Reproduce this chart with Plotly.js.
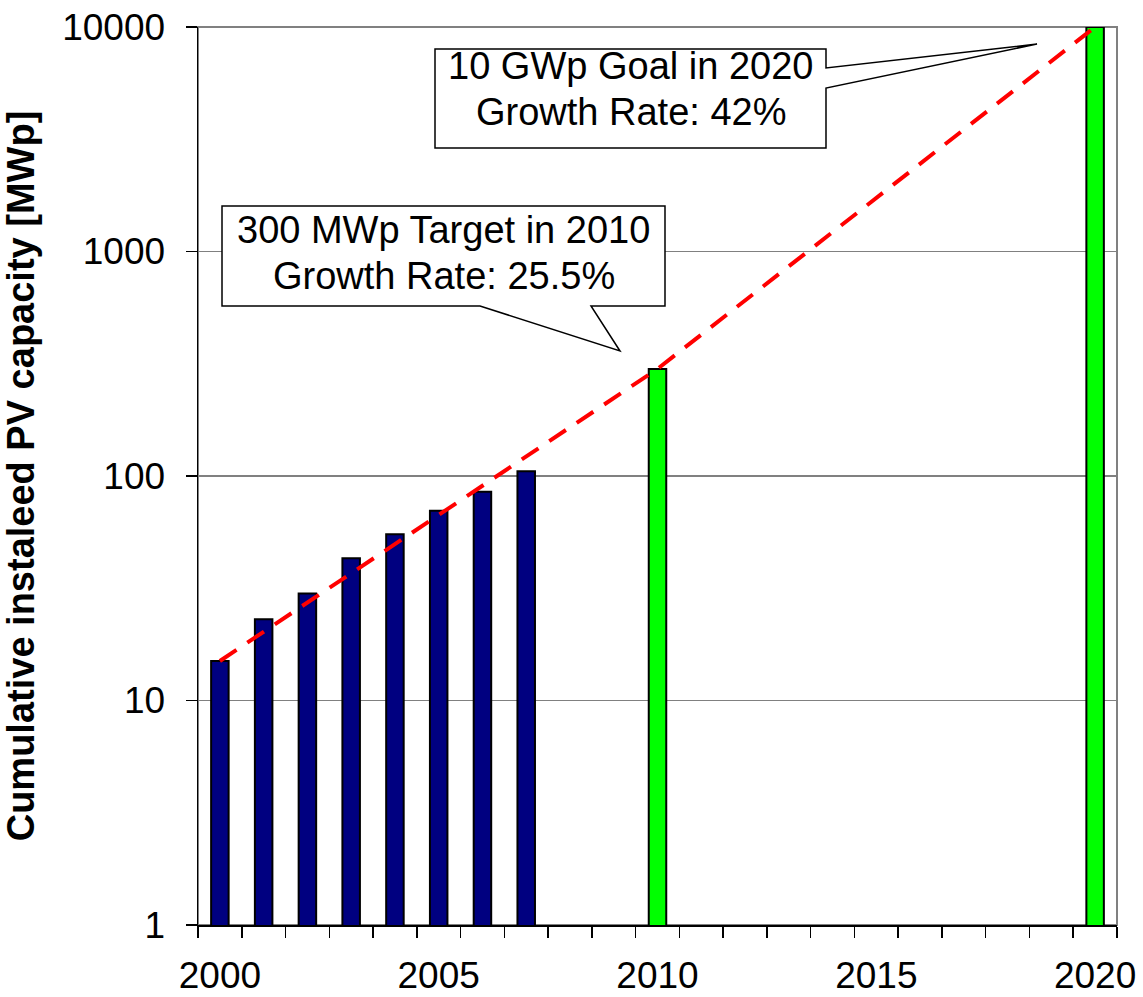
<!DOCTYPE html>
<html>
<head>
<meta charset="utf-8">
<script src="https://cdn.plot.ly/plotly-3.0.1.min.js"></script>
<style>
  html, body { margin: 0; padding: 0; background: #ffffff; }
  #chart { width: 1143px; height: 997px; }
</style>
</head>
<body>
<div id="chart"></div>
<script>
// ---- data ----
const installedYears = [2000, 2001, 2002, 2003, 2004, 2005, 2006, 2007];
const installedMWp   = [15, 23, 30, 43, 55, 70, 85, 105];
const targetYears    = [2010, 2020];
const targetMWp      = [300, 10000];
const trendYears     = [2000, 2010, 2020];
const trendMWp       = [15, 300, 10000];
const yTickVals      = [1, 10, 100, 1000, 10000];
const yTickText      = ['1', '10', '100', '1000', '10000'];
const xLabelYears    = [2000, 2005, 2010, 2015, 2020];
const callout2020    = ['10 GWp Goal in 2020', 'Growth Rate: 42%'];
const callout2010    = ['300 MWp Target in 2010', 'Growth Rate: 25.5%'];
const yTitle         = 'Cumulative instaleed PV capacity [MWp]';

// ---- layout geometry (pixels of the plot area) ----
const W = 1143, H = 997;
const L = 198, R = 1117, T = 27, B = 925;
const px = x => (x - L) / (R - L);
const py = y => (B - y) / (B - T);
const FONT = 'Arial, "Liberation Sans", sans-serif';

// year boundaries for the tick marks
const boundaryTicks = [];
for (let y = 1999.5; y <= 2020.5; y += 1) boundaryTicks.push(y);

function pathFrom(points) {
  return 'M ' + points.map(p => px(p[0]).toFixed(5) + ',' + py(p[1]).toFixed(5)).join(' L ') + ' Z';
}
const box2020 = [[435, 49], [826, 49], [826, 68], [1037, 44], [826, 88], [826, 148], [435, 148]];
const box2010 = [[222, 206], [665, 206], [665, 306], [591, 306], [620, 351], [480, 306], [222, 306]];

const traces = [
  {
    type: 'bar', x: installedYears, y: installedMWp, width: 0.4,
    marker: { color: '#000080', line: { color: '#000000', width: 2 } },
    xaxis: 'x', yaxis: 'y', hoverinfo: 'x+y'
  },
  {
    type: 'bar', x: targetYears, y: targetMWp, width: 0.4,
    marker: { color: '#00ff00', line: { color: '#000000', width: 2 } },
    xaxis: 'x', yaxis: 'y', hoverinfo: 'x+y'
  },
  {
    type: 'scatter', mode: 'lines', x: trendYears, y: trendMWp,
    line: { color: '#ff0000', width: 4, dash: '20px,13px' },
    xaxis: 'x2', yaxis: 'y', hoverinfo: 'x+y'
  }
];

const annotations = [];
function addLines(lines, cx, ys) {
  lines.forEach((t, i) => {
    annotations.push({
      xref: 'paper', yref: 'paper', x: px(cx), y: py(ys[i]),
      xanchor: 'center', yanchor: 'middle', showarrow: false,
      text: t, font: { family: FONT, size: 38, color: '#000000' }
    });
  });
}
addLines(callout2020, 630.5, [66, 111.5]);
addLines(callout2010, 443.5, [230, 276]);

const layout = {
  width: W, height: H,
  margin: { l: L, r: W - R, t: T, b: H - B, pad: 0 },
  paper_bgcolor: '#ffffff', plot_bgcolor: '#ffffff',
  showlegend: false,
  barmode: 'overlay',
  font: { family: FONT, color: '#000000' },
  xaxis: {
    type: 'linear', range: [1999.5, 2020.5], fixedrange: true,
    tickmode: 'array', tickvals: boundaryTicks, showticklabels: false,
    ticks: 'outside', ticklen: 11, tickwidth: 1.5, tickcolor: '#000000',
    showline: true, linecolor: '#000000', linewidth: 1.5,
    showgrid: false, zeroline: false
  },
  xaxis2: {
    type: 'linear', range: [1999.5, 2020.5], overlaying: 'x', anchor: 'y', side: 'bottom',
    tickmode: 'array', tickvals: xLabelYears, ticktext: xLabelYears.map(String),
    ticks: '', ticklabelstandoff: 25,
    tickfont: { family: FONT, size: 37, color: '#000000' },
    showline: false, showgrid: false, zeroline: false
  },
  yaxis: {
    type: 'log', range: [0, 4], fixedrange: true,
    tickmode: 'array', tickvals: yTickVals, ticktext: yTickText,
    ticks: 'outside', ticklen: 11, tickwidth: 1.5, tickcolor: '#000000',
    ticklabelstandoff: 13,
    tickfont: { family: FONT, size: 37, color: '#000000' },
    showline: true, linecolor: '#000000', linewidth: 1.5,
    showgrid: true, gridcolor: '#808080', gridwidth: 1.5, zeroline: false,
    title: { text: yTitle, standoff: 24, font: { family: FONT, size: 38, weight: 'bold', color: '#000000' } }
  },
  shapes: [
    { type: 'rect', xref: 'paper', yref: 'paper', x0: 0, x1: 1, y0: 0, y1: 1,
      line: { color: '#808080', width: 2 }, layer: 'below' },
    { type: 'path', xref: 'paper', yref: 'paper', path: pathFrom(box2020),
      fillcolor: '#ffffff', line: { color: '#000000', width: 1.5 }, layer: 'above' },
    { type: 'path', xref: 'paper', yref: 'paper', path: pathFrom(box2010),
      fillcolor: '#ffffff', line: { color: '#000000', width: 1.5 }, layer: 'above' }
  ],
  annotations: annotations
};

Plotly.newPlot('chart', traces, layout, { staticPlot: true, displayModeBar: false });
</script>
</body>
</html>
